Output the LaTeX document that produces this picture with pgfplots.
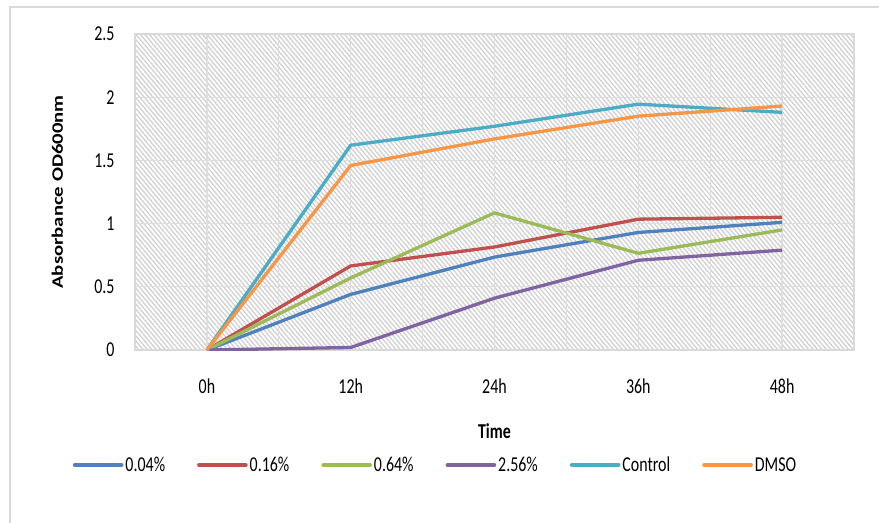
\documentclass[border=0pt]{standalone}
\usepackage{pgfplots}
\pgfplotsset{compat=1.18}
\usepackage{fontspec}
\setmainfont{Carlito}
\usetikzlibrary{patterns.meta}

\definecolor{sBlue}{HTML}{4F81BD}
\definecolor{sRed}{HTML}{C0504D}
\definecolor{sGreen}{HTML}{9BBB59}
\definecolor{sPurple}{HTML}{8064A2}
\definecolor{sAqua}{HTML}{4BACC6}
\definecolor{sOrange}{HTML}{F79646}
\definecolor{gridgray}{HTML}{DEDEDE}
\definecolor{framegray}{HTML}{D9D9D9}
\definecolor{hatch}{HTML}{D0D0D0}

% text is set a little taller than wide
\newcommand{\vs}[1]{\scalebox{1}[1.33]{#1}}

\begin{document}
\begin{tikzpicture}[x=1bp,y=1bp]
\useasboundingbox (0,0) rectangle (879,-523);
% chart frame
\draw[framegray, line width=1.2bp] (10,-530) -- (10,-7) -- (890,-7);
\begin{axis}[
  at={(135bp,-350bp)}, anchor=south west,
  scale only axis, width=719bp, height=316bp,
  xmin=-0.5, xmax=4.5, ymin=0, ymax=2.5,
  xtick={0,1,2,3,4},
  xticklabels={\vs{0h},\vs{12h},\vs{24h},\vs{36h},\vs{48h}},
  minor xtick={-0.5,0.5,1.5,2.5,3.5,4.5},
  ytick={0,0.5,1,1.5,2,2.5},
  yticklabel={\vs{\pgfmathprintnumber{\tick}}},
  grid=both,
  major grid style={gridgray, line width=1.3bp},
  minor grid style={gridgray, line width=1.3bp},
  major tick length=0pt, minor tick length=0pt,
  axis line style={framegray, line width=1.3bp},
  axis background/.style={pattern={Lines[angle=-50, distance=3.4bp, line width=1.3bp]}, pattern color=hatch},
  /pgf/number format/assume math mode=true,
  tick label style={font=\fontsize{16}{18}\selectfont, text=black},
  xticklabel style={anchor=center, yshift=-36bp},
  yticklabel style={anchor=east, xshift=-17bp},
  xlabel={\textbf{Time}},
  ylabel={\textbf{Absorbance OD600nm}},
  label style={font=\fontsize{16}{18}\selectfont},
  xlabel style={at={(axis description cs:0.5,-0.258)}, anchor=center, yscale=1.33},
  ylabel style={at={(axis description cs:-0.108,0.5)}, anchor=center, xscale=1.3},
  legend columns=6,
  legend style={draw=none, fill=none,
    at={(axis description cs:0.418,-0.364)}, anchor=center,
    font=\fontsize{16}{18}\selectfont,
    /tikz/every even column/.append style={column sep=30bp}},
  legend image code/.code={\draw[#1, line width=3.6bp, line cap=round] (0bp,0bp) -- (47bp,0bp);},
  every axis plot/.append style={line width=3.3bp, line join=round},
]
\addplot[sBlue] coordinates {(0,0) (1,0.44) (2,0.735) (3,0.93) (4,1.01)};
\addlegendentry{\vs{0.04\%}}
\addplot[sRed] coordinates {(0,0) (1,0.665) (2,0.815) (3,1.035) (4,1.05)};
\addlegendentry{\vs{0.16\%}}
\addplot[sGreen] coordinates {(0,0) (1,0.57) (2,1.085) (3,0.765) (4,0.95)};
\addlegendentry{\vs{0.64\%}}
\addplot[sPurple] coordinates {(0,0) (1,0.02) (2,0.41) (3,0.71) (4,0.79)};
\addlegendentry{\vs{2.56\%}}
\addplot[sAqua] coordinates {(0,0) (1,1.62) (2,1.77) (3,1.945) (4,1.88)};
\addlegendentry{\vs{Control}}
\addplot[sOrange] coordinates {(0,0) (1,1.46) (2,1.67) (3,1.85) (4,1.93)};
\addlegendentry{\vs{DMSO}}
\end{axis}
\end{tikzpicture}
\end{document}
